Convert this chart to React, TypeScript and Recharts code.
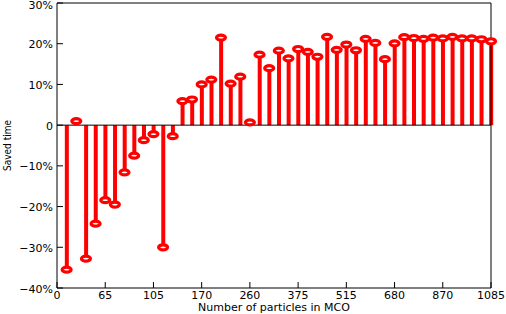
import React from "react"
import {
    ComposedChart,
    Bar,
    Scatter,
    XAxis,
    YAxis,
    ReferenceLine,
    Label,
} from "recharts"

// saved time (%) per run, index 1..45 along the x axis
const savedTime = [
    -35.5, 1.0, -32.8, -24.2, -18.4, -19.5, -11.6, -7.5, -3.7, -2.2,
    -30.0, -2.7, 5.9, 6.3, 10.0, 11.2, 21.5, 10.2, 11.9, 0.7,
    17.3, 14.0, 18.3, 16.4, 18.7, 18.0, 16.8, 21.7, 18.5, 19.8,
    18.4, 21.2, 20.2, 16.2, 20.1, 21.6, 21.4, 21.2, 21.5, 21.3,
    21.7, 21.3, 21.3, 21.1, 20.6,
]

// particle counts shown under every 5th index
const xTickPos = [0, 5, 10, 15, 20, 25, 30, 35, 40, 45]
const xTickLabels = ["0", "65", "105", "170", "260", "375", "515", "680", "870", "1085"]
const yTicks = [-40, -30, -20, -10, 0, 10, 20, 30]

const data = savedTime.map((v, k) => ({ i: k + 1, v }))

const font = { fontSize: 11, fill: "#000", fontFamily: "DejaVu Sans" }

function fmtY(v: number) {
    if (v === 0) return "0"
    return (v < 0 ? "\u2212" + Math.abs(v) : String(v)) + "%"
}

function fmtX(v: number) {
    const k = xTickPos.indexOf(v)
    return k >= 0 ? xTickLabels[k] : ""
}

// y tick label; the top one is nudged down so it stays inside the page
function YTick(props: any) {
    const { x, y, payload } = props
    const top = payload.value === yTicks[yTicks.length - 1]
    return (
        <text x={x} y={top ? Math.max(y, 4.5) : y} dy={4.5} textAnchor="end" {...font}>
            {fmtY(payload.value)}
        </text>
    )
}

function Marker(props: any) {
    const { cx, cy } = props
    return <ellipse cx={cx} cy={cy} rx={4.5} ry={2.5} fill="#fff" stroke="#ff0000" strokeWidth={3.2} />
}

export default function App() {
    return (
        <div style={{ position: "absolute", left: 0, top: 0, background: "#fff" }}>
            <ComposedChart width={506} height={314} data={data} margin={{ top: 2, right: 14, left: 0, bottom: 0 }}>
                <XAxis
                    dataKey="i"
                    type="number"
                    domain={[0, 45]}
                    ticks={xTickPos}
                    tickFormatter={fmtX}
                    interval={0}
                    tick={font}
                    tickSize={-6}
                    tickMargin={9}
                    height={26}
                    stroke="#000"
                >
                    <Label
                        content={({ viewBox }: any) => (
                            <text
                                x={viewBox.x + viewBox.width / 2}
                                y={311}
                                textAnchor="middle"
                                fontSize={11}
                                fontFamily="DejaVu Sans"
                                fill="#000"
                            >
                                Number of particles in MCO
                            </text>
                        )}
                    />
                </XAxis>
                <XAxis
                    xAxisId="top"
                    orientation="top"
                    type="number"
                    domain={[0, 45]}
                    ticks={xTickPos}
                    tick={false}
                    tickSize={-6}
                    height={1}
                    stroke="#000"
                />
                <YAxis
                    type="number"
                    domain={[-40, 30]}
                    ticks={yTicks}
                    interval={0}
                    tick={<YTick />}
                    tickSize={-6}
                    tickMargin={10}
                    width={57}
                    stroke="#000"
                >
                    <Label
                        content={({ viewBox }: any) => {
                            const cy = viewBox.y + viewBox.height / 2
                            return (
                                <text
                                    x={11}
                                    y={cy}
                                    transform={`rotate(-90, 11, ${cy})`}
                                    textAnchor="middle"
                                    fontSize={10}
                                    fontFamily="DejaVu Sans Condensed"
                                    fill="#000"
                                >
                                    Saved time
                                </text>
                            )
                        }}
                    />
                </YAxis>
                <YAxis
                    yAxisId="right"
                    orientation="right"
                    type="number"
                    domain={[-40, 30]}
                    ticks={yTicks}
                    tick={false}
                    tickSize={-6}
                    width={1}
                    stroke="#000"
                />
                <ReferenceLine y={0} stroke="#000" />
                <Bar dataKey="v" fill="#ff0000" barSize={4} isAnimationActive={false} />
                <Scatter dataKey="v" shape={Marker} isAnimationActive={false} />
            </ComposedChart>
        </div>
    )
}
